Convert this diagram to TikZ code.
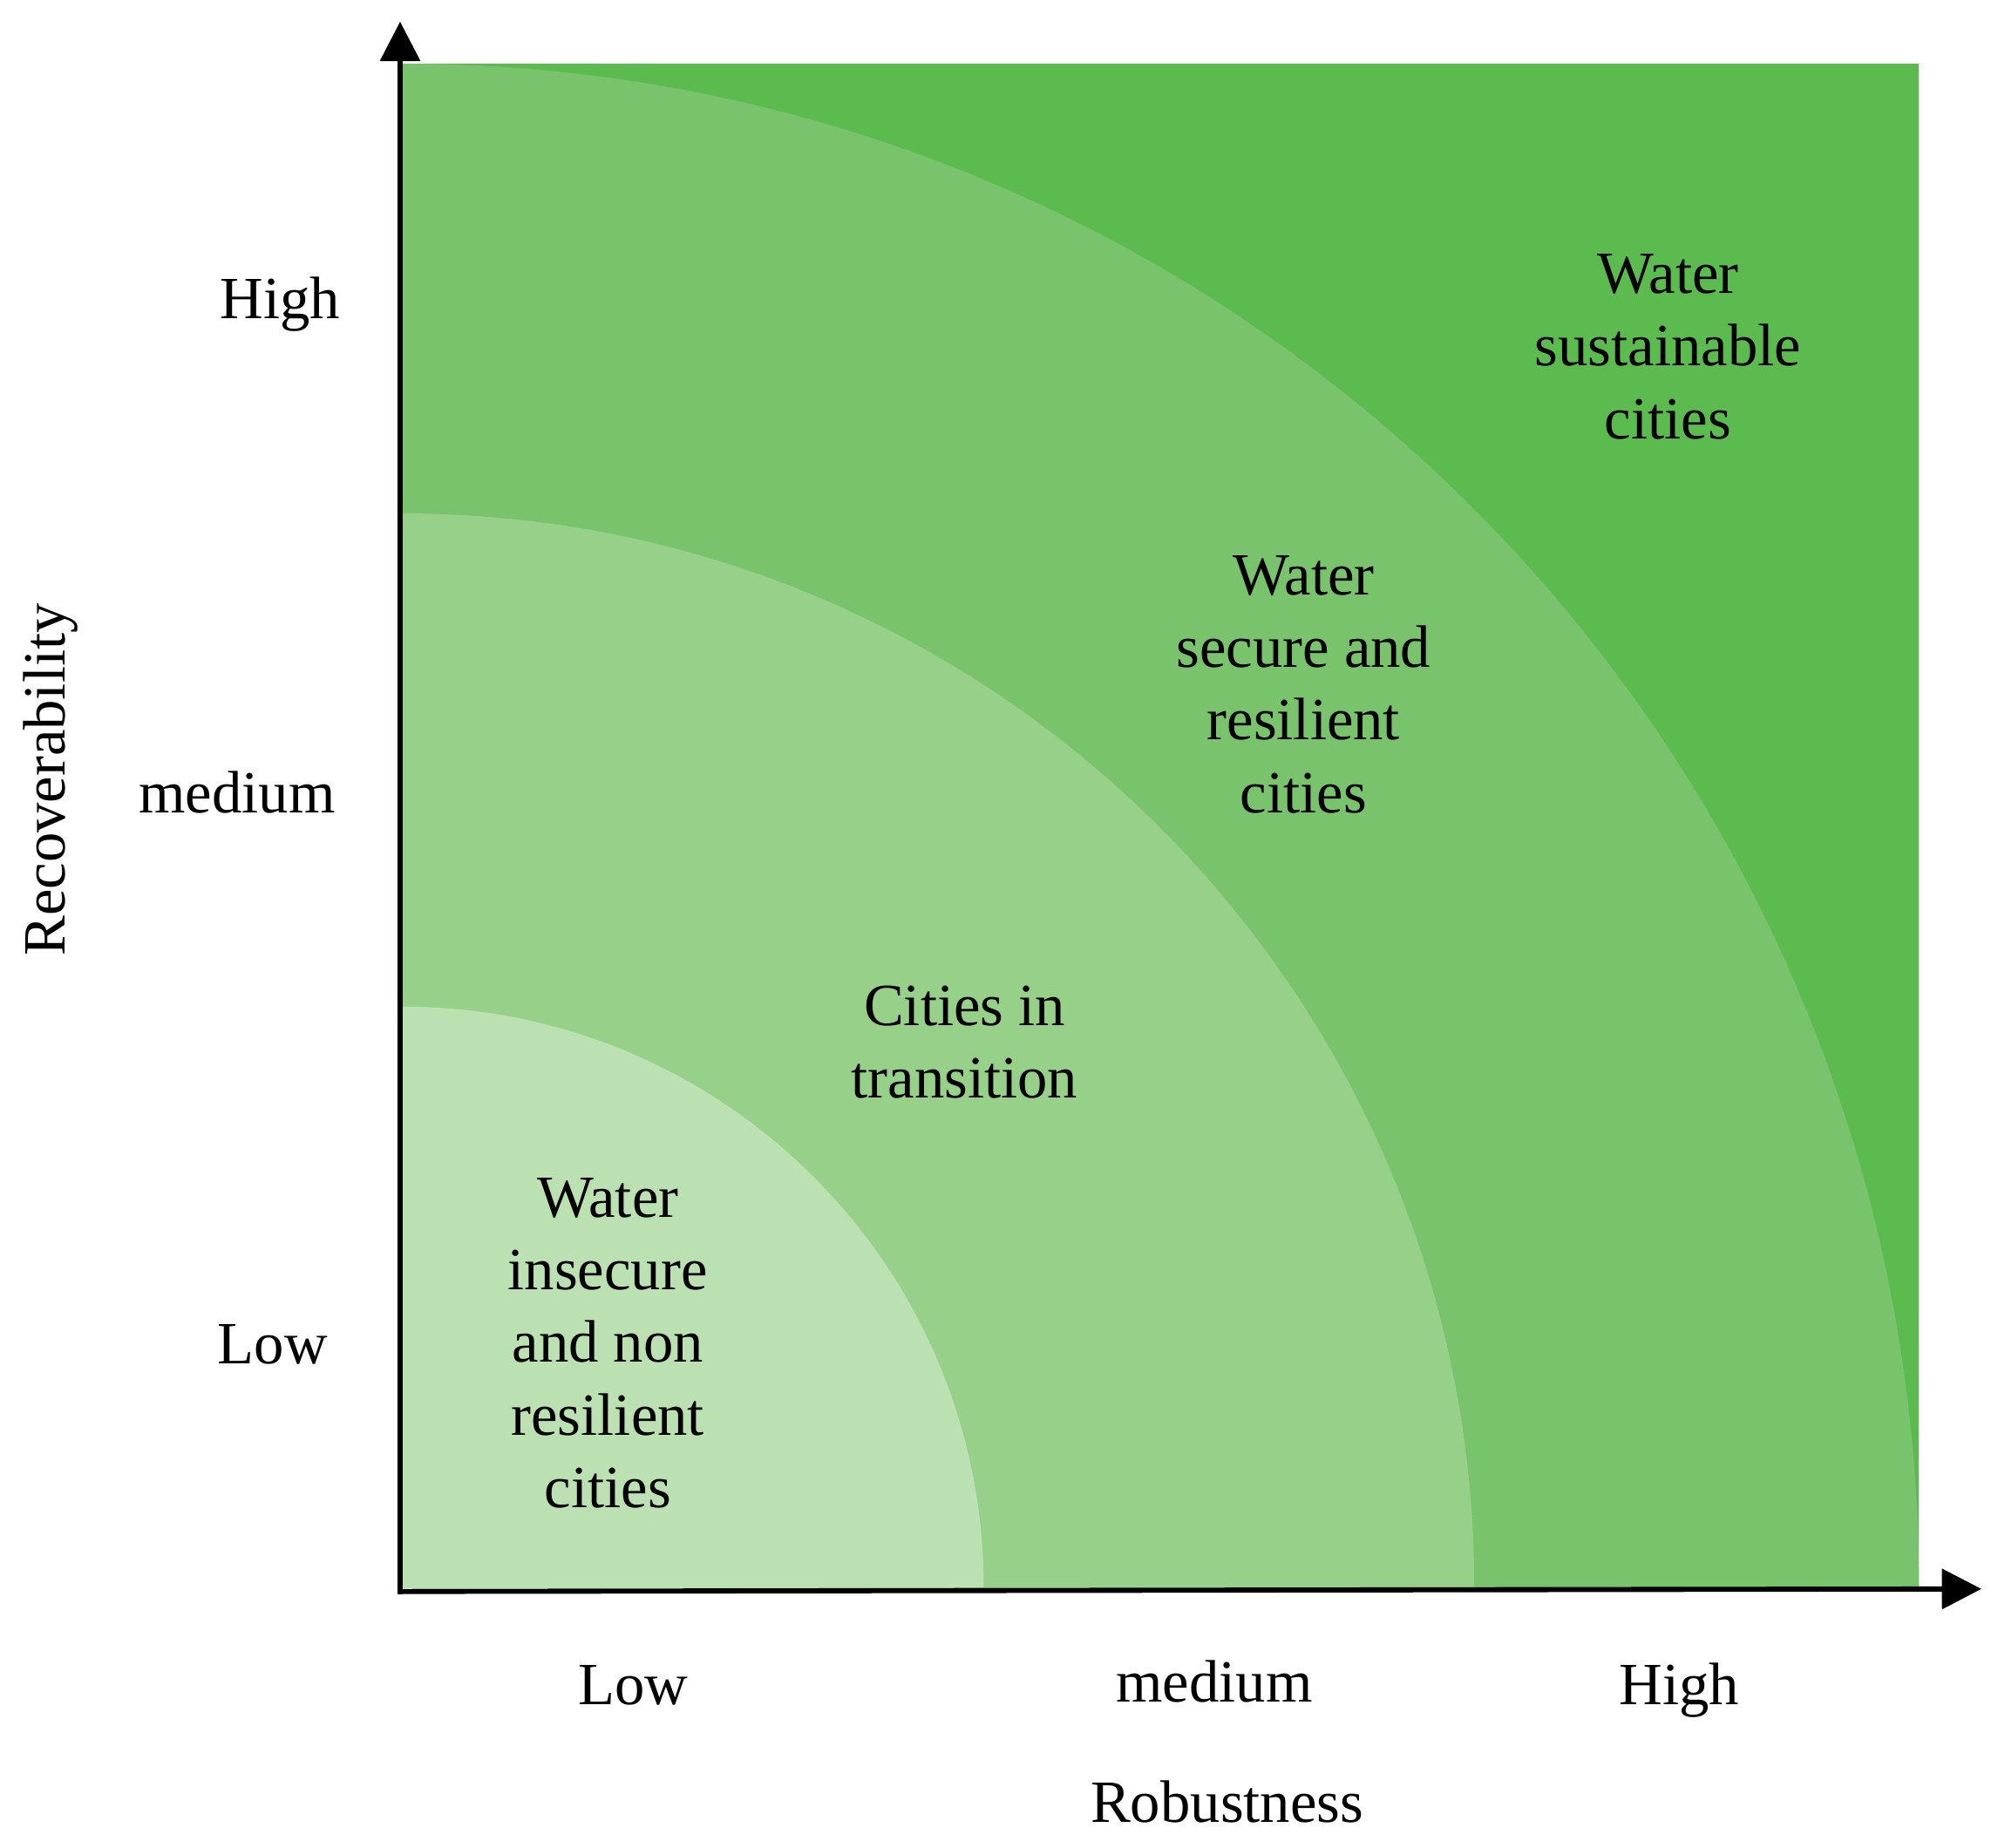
\documentclass[tikz,border=0pt]{standalone}
\usepackage{fontspec}
\setmainfont{Liberation Serif}
\usetikzlibrary{arrows.meta}
\definecolor{gDark}{HTML}{5BBB4F}
\definecolor{gMid}{HTML}{78C36C}
\definecolor{gLight}{HTML}{97D089}
\definecolor{gPale}{HTML}{BBE0B1}
\begin{document}
\begin{tikzpicture}[x=1pt,y=1pt,
  lbl/.style={font=\fontsize{47}{57}\selectfont, inner sep=0pt, align=center},
  axislbl/.style={font=\fontsize{47}{57}\selectfont, inner sep=0pt, anchor=base},
  axisline/.style={line width=4pt, -{Triangle[length=31pt,width=31pt]}}]
\useasboundingbox (0,0) rectangle (1568,1450);
\coordinate (O) at (316,204);
% regions
\fill[gDark] (316,204) rectangle (1506,1400);
\fill[gMid] (O) -- (1506,204) arc[start angle=0,end angle=90,x radius=1190,y radius=1196] -- cycle;
\fill[gLight] (O) -- (1157,204) arc[start angle=0,end angle=90,x radius=841,y radius=843] -- cycle;
\fill[gPale] (O) -- (772,204) arc[start angle=0,end angle=90,x radius=456,y radius=456] -- cycle;
% axes
\coordinate (corner) at (314,201);
\coordinate (ytip) at (314,1433);
\coordinate (xtip) at (1555,203);
\draw[axisline] ([yshift=-2pt]corner) -- (ytip);
\draw[axisline] ([xshift=-2pt]corner) -- (xtip);
% region labels
\node[lbl] (sus) at (1309,1178) {Water\\sustainable\\cities};
\node[lbl] (sec) at (1023,913) {Water\\secure and\\resilient\\cities};
\node[lbl] (tra) at (757,632) {Cities in\\transition};
\node[lbl] (ins) at (477,396) {Water\\insecure\\and non\\resilient\\cities};
% axis labels
\node[axislbl] (yh) at (220,1200) {High};
\node[axislbl] (ym) at (186,812) {medium};
\node[axislbl] (yl) at (214,380) {Low};
\node[lbl, rotate=90] (yt) at (40,838) {Recoverability};
\node[axislbl] (xl) at (497,112) {Low};
\node[axislbl] (xm) at (953,114) {medium};
\node[axislbl] (xh) at (1318,112) {High};
\node[axislbl] (xt) at (963,20) {Robustness};
\end{tikzpicture}
\end{document}
